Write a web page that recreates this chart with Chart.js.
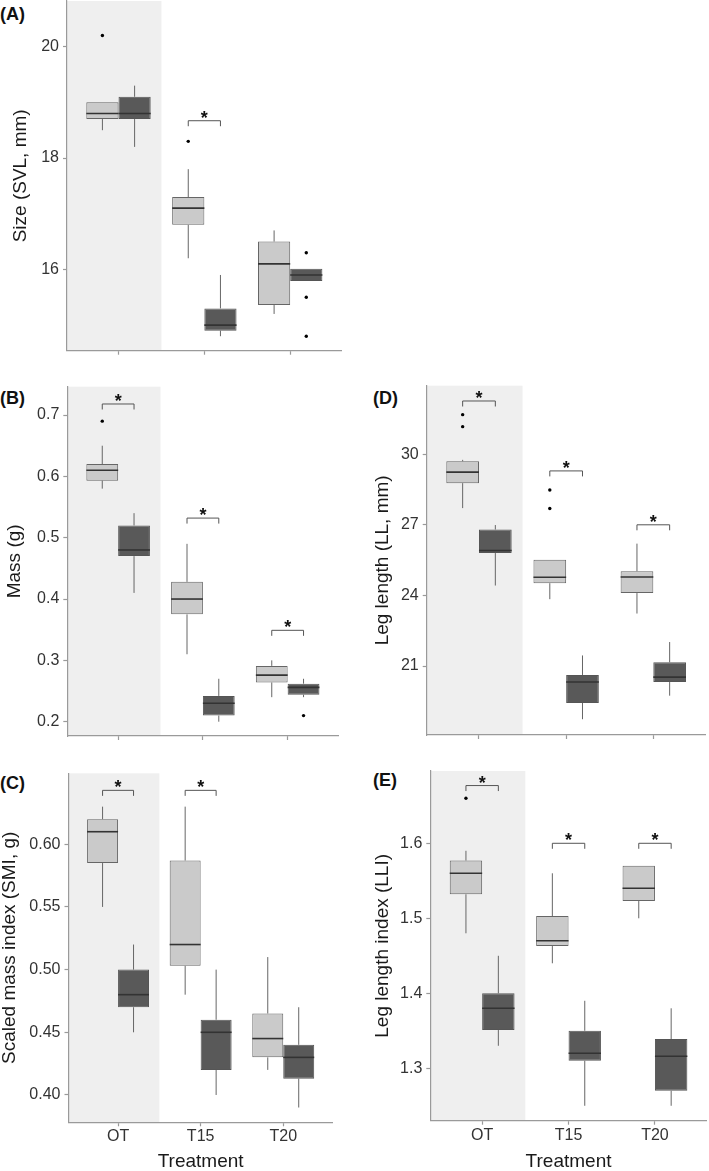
<!DOCTYPE html>
<html lang="en">
<head>
<meta charset="UTF-8">
<title>Body size and leg length by treatment</title>
<script src="https://cdn.jsdelivr.net/npm/chart.js@4.4.1/dist/chart.umd.min.js"></script>
<style>
  body { margin: 0; background: #fff; width: 709px; height: 1171px; position: relative; overflow: hidden;
         font-family: "Liberation Sans", Arial, sans-serif; }
  canvas { position: absolute; }
  .tag { position: absolute; font-weight: bold; font-size: 18px; line-height: 20px; color: #111; }
</style>
</head>
<body>
<div class="tag" style="left:0;top:4px">(A)</div>
<div class="tag" style="left:0;top:388px">(B)</div>
<div class="tag" style="left:0;top:773px">(C)</div>
<div class="tag" style="left:373px;top:388px">(D)</div>
<div class="tag" style="left:373px;top:770px">(E)</div>
<canvas id="chartA"></canvas>
<canvas id="chartB"></canvas>
<canvas id="chartC"></canvas>
<canvas id="chartD"></canvas>
<canvas id="chartE"></canvas>

<script>
const categories = ['OT', 'T15', 'T20'];

// each box: [lower whisker, Q1, median, Q3, upper whisker]
// (A) size
const sizeLight = [[18.5, 18.7, 18.8, 19.0, 19.0], [16.2, 16.8, 17.1, 17.3, 17.8], [15.2, 15.36, 16.1, 16.5, 16.7]];
const sizeDark = [[18.2, 18.7, 18.8, 19.1, 19.3], [14.8, 14.9, 15.0, 15.3, 15.9], [15.79, 15.79, 15.9, 16.01, 16.01]];
const sizeLightOut = [[20.2], [18.3], []];
const sizeDarkOut = [[], [], [16.3, 15.5, 14.8]];
const sizeSig = [null, 18.67, null];
const sizeTicks = [16, 18, 20];

// (B) mass
const massLight = [[0.58, 0.593, 0.61, 0.62, 0.65], [0.31, 0.375, 0.40, 0.428, 0.49], [0.24, 0.264, 0.276, 0.291, 0.30]];
const massDark = [[0.41, 0.47, 0.48, 0.52, 0.54], [0.20, 0.21, 0.23, 0.242, 0.27], [0.24, 0.244, 0.256, 0.262, 0.27]];
const massLightOut = [[0.69], [], []];
const massDarkOut = [[], [], [0.21]];
const massSig = [0.718, 0.532, 0.349];
const massTicks = [0.2, 0.3, 0.4, 0.5, 0.6, 0.7];

// (C) scaled mass index
const smiLight = [[0.55, 0.585, 0.61, 0.62, 0.63], [0.48, 0.503, 0.52, 0.587, 0.63], [0.42, 0.43, 0.445, 0.465, 0.51]];
const smiDark = [[0.45, 0.47, 0.48, 0.50, 0.52], [0.40, 0.42, 0.45, 0.46, 0.50], [0.39, 0.413, 0.43, 0.44, 0.47]];
const smiLightOut = [[], [], []];
const smiDarkOut = [[], [], []];
const smiSig = [0.643, 0.643, null];
const smiTicks = [0.40, 0.45, 0.50, 0.55, 0.60];

// (D) leg length
const legLight = [[27.71, 28.77, 29.24, 29.70, 29.76], [23.84, 24.52, 24.77, 25.52, 25.52], [23.23, 24.10, 24.78, 25.03, 26.20]];
const legDark = [[24.42, 25.80, 25.91, 26.80, 26.99], [18.74, 19.43, 20.32, 20.62, 21.45], [19.74, 20.32, 20.53, 21.16, 22.02]];
const legLightOut = [[31.68, 31.17], [28.48, 27.69], []];
const legDarkOut = [[], [], []];
const legSig = [32.26, 29.29, 27.0];
const legTicks = [21, 24, 27, 30];

// (E) leg length index
const lliLight = [[1.48, 1.532, 1.56, 1.577, 1.59], [1.44, 1.463, 1.47, 1.503, 1.56], [1.50, 1.523, 1.54, 1.57, 1.57]];
const lliDark = [[1.33, 1.351, 1.38, 1.40, 1.45], [1.25, 1.31, 1.32, 1.35, 1.39], [1.25, 1.27, 1.316, 1.339, 1.38]];
const lliLightOut = [[1.66], [], []];
const lliDarkOut = [[], [], []];
const lliSig = [1.677, 1.60, 1.60];
const lliTicks = [1.3, 1.4, 1.5, 1.6];

const FONT = '"Liberation Sans", Arial, sans-serif';
const AXIS = '#9a9a9a';

// canvas box and plot area in page pixels
const panels = [
  { id: 'chartA', title: 'Size (SVL, mm)', light: sizeLight, dark: sizeDark, lightOut: sizeLightOut, darkOut: sizeDarkOut,
    sig: sizeSig, ticks: sizeTicks, digits: 0, yMin: 14.54, yMax: 20.82, xLabels: false,
    box: { left: 0, top: 0, width: 350, height: 365 }, plot: { left: 67, right: 341.7, top: 1, bottom: 350.7 }, titleX: 21 },
  { id: 'chartB', title: 'Mass (g)', light: massLight, dark: massDark, lightOut: massLightOut, darkOut: massDarkOut,
    sig: massSig, ticks: massTicks, digits: 1, yMin: 0.1767, yMax: 0.7462, xLabels: false,
    box: { left: 0, top: 375, width: 350, height: 375 }, plot: { left: 67.3, right: 338.5, top: 386.7, bottom: 736 }, titleX: 15 },
  { id: 'chartC', title: 'Scaled mass index (SMI, g)', light: smiLight, dark: smiDark, lightOut: smiLightOut, darkOut: smiDarkOut,
    sig: smiSig, ticks: smiTicks, digits: 2, yMin: 0.3782, yMax: 0.6566, xLabels: true,
    box: { left: 0, top: 760, width: 350, height: 411 }, plot: { left: 68.5, right: 332.8, top: 773.3, bottom: 1122.3 }, titleX: 9.5 },
  { id: 'chartD', title: 'Leg length (LL, mm)', light: legLight, dark: legDark, lightOut: legLightOut, darkOut: legDarkOut,
    sig: legSig, ticks: legTicks, digits: 0, yMin: 18.07, yMax: 32.91, xLabels: false,
    box: { left: 360, top: 375, width: 349, height: 375 }, plot: { left: 426.7, right: 705.6, top: 385.7, bottom: 735 }, titleX: 382.5 },
  { id: 'chartE', title: 'Leg length index (LLI)', light: lliLight, dark: lliDark, lightOut: lliLightOut, darkOut: lliDarkOut,
    sig: lliSig, ticks: lliTicks, digits: 1, yMin: 1.2301, yMax: 1.6964, xLabels: true,
    box: { left: 360, top: 760, width: 349, height: 411 }, plot: { left: 430.3, right: 706.8, top: 771, bottom: 1120.7 }, titleX: 382.5 }
];

// whiskers, medians, outliers, significance brackets and the shaded OT band
function boxExtras(p) {
  return {
    id: 'boxExtras',
    beforeDraw(chart) {
      const { ctx, chartArea, scales: { x } } = chart;
      ctx.save();
      ctx.fillStyle = '#efefef';
      ctx.fillRect(chartArea.left, chartArea.top, x.getPixelForValue(1.5) - chartArea.left, chartArea.bottom - chartArea.top);
      ctx.restore();
    },
    beforeDatasetsDraw(chart) {
      const { ctx, scales: { y } } = chart;
      ctx.save();
      ctx.strokeStyle = '#666';
      ctx.lineWidth = 1;
      [p.light, p.dark].forEach((stats, d) => {
        const bars = chart.getDatasetMeta(d).data;
        stats.forEach((s, i) => {
          const cx = bars[i].x;
          ctx.beginPath();
          ctx.moveTo(cx, y.getPixelForValue(s[0]));
          ctx.lineTo(cx, y.getPixelForValue(s[1]));
          ctx.moveTo(cx, y.getPixelForValue(s[3]));
          ctx.lineTo(cx, y.getPixelForValue(s[4]));
          ctx.stroke();
        });
      });
      ctx.restore();
    },
    afterDatasetsDraw(chart) {
      const { ctx, scales: { y } } = chart;
      const lightBars = chart.getDatasetMeta(0).data;
      const darkBars = chart.getDatasetMeta(1).data;
      ctx.save();
      // medians
      ctx.strokeStyle = '#333';
      ctx.lineWidth = 1.6;
      [[p.light, lightBars], [p.dark, darkBars]].forEach(([stats, bars]) => {
        stats.forEach((s, i) => {
          const b = bars[i], my = y.getPixelForValue(s[2]);
          ctx.beginPath();
          ctx.moveTo(b.x - b.width / 2, my);
          ctx.lineTo(b.x + b.width / 2, my);
          ctx.stroke();
        });
      });
      // outliers
      ctx.fillStyle = '#000';
      [[p.lightOut, lightBars], [p.darkOut, darkBars]].forEach(([outs, bars]) => {
        outs.forEach((list, i) => {
          list.forEach(v => {
            ctx.beginPath();
            ctx.arc(bars[i].x, y.getPixelForValue(v), 1.7, 0, Math.PI * 2);
            ctx.fill();
          });
        });
      });
      // brackets with stars
      ctx.strokeStyle = '#555';
      ctx.lineWidth = 1;
      ctx.fillStyle = '#111';
      ctx.font = 'bold 18px ' + FONT;
      ctx.textAlign = 'center';
      ctx.textBaseline = 'alphabetic';
      p.sig.forEach((v, i) => {
        if (v === null) return;
        const x1 = lightBars[i].x, x2 = darkBars[i].x, yb = y.getPixelForValue(v);
        ctx.beginPath();
        ctx.moveTo(x1, yb + 5.5);
        ctx.lineTo(x1, yb);
        ctx.lineTo(x2, yb);
        ctx.lineTo(x2, yb + 5.5);
        ctx.stroke();
        ctx.fillText('*', (x1 + x2) / 2, yb + 3);
      });
      ctx.restore();
    }
  };
}

function drawPanel(p) {
  const canvas = document.getElementById(p.id);
  canvas.width = p.box.width;
  canvas.height = p.box.height;
  canvas.style.left = p.box.left + 'px';
  canvas.style.top = p.box.top + 'px';

  const boxData = stats => stats.map((s, i) => ({ x: i + 1, y: [s[1], s[3]] }));

  new Chart(canvas, {
    type: 'bar',
    data: {
      datasets: [
        { label: 'light', data: boxData(p.light), backgroundColor: '#cacaca', borderColor: '#666', borderWidth: 1, borderSkipped: false },
        { label: 'dark', data: boxData(p.dark), backgroundColor: '#595959', borderColor: '#555', borderWidth: 1, borderSkipped: false }
      ]
    },
    options: {
      responsive: false,
      animation: false,
      devicePixelRatio: 1,
      categoryPercentage: 0.75,
      barPercentage: 1,
      layout: {
        padding: {
          left: 0,
          top: p.plot.top - p.box.top,
          right: p.box.left + p.box.width - p.plot.right,
          bottom: 0
        }
      },
      plugins: { legend: { display: false }, tooltip: { enabled: false } },
      scales: {
        x: {
          type: 'linear',
          min: 0.4,
          max: 3.6,
          offset: false,
          bounds: 'data',
          afterBuildTicks: s => { s.ticks = categories.map((c, i) => ({ value: i + 1 })); },
          afterFit: s => {
            s.height = p.box.top + p.box.height - p.plot.bottom;
            s.paddingLeft = 0;
            s.paddingRight = 0;
          },
          border: { color: AXIS, width: 1.2 },
          grid: { drawOnChartArea: false, offset: false, tickLength: 4, tickColor: AXIS, tickWidth: 1.2 },
          ticks: {
            display: p.xLabels, autoSkip: false, maxRotation: 0, padding: 1, color: '#333',
            font: { family: FONT, size: 16 },
            callback: v => categories[v - 1] || ''
          },
          title: {
            display: p.xLabels, text: 'Treatment', color: '#1a1a1a',
            font: { family: FONT, size: 19, lineHeight: 1 }, padding: { top: 0, bottom: 0 }
          }
        },
        y: {
          min: p.yMin,
          max: p.yMax,
          bounds: 'data',
          afterBuildTicks: s => { s.ticks = p.ticks.map(v => ({ value: v })); },
          afterFit: s => {
            s.width = p.plot.left - p.box.left;
            s.paddingTop = 0;
            s.paddingBottom = 0;
          },
          border: { color: AXIS, width: 1.2 },
          grid: { drawOnChartArea: false, tickLength: 4, tickColor: AXIS, tickWidth: 1.2 },
          ticks: {
            autoSkip: false, padding: 4, color: '#333',
            font: { family: FONT, size: 16 },
            callback: v => Number(v).toFixed(p.digits)
          },
          title: {
            display: true, text: p.title, color: '#1a1a1a',
            font: { family: FONT, size: 19, lineHeight: 1 },
            padding: { top: p.titleX - p.box.left - 9.5, bottom: 0 }
          }
        }
      }
    },
    plugins: [boxExtras(p)]
  });
}

panels.forEach(drawPanel);
</script>
</body>
</html>
